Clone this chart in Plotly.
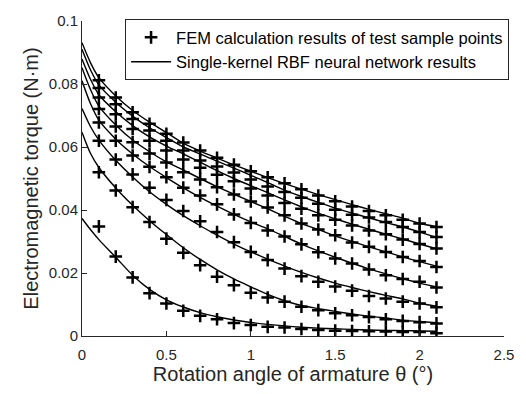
import plotly.graph_objects as go

# x positions of FEM sample points and of the RBF network curve
x_fem = [0.1, 0.2, 0.3, 0.4, 0.5, 0.6, 0.7, 0.8, 0.9, 1.0, 1.1,
         1.2, 1.3, 1.4, 1.5, 1.6, 1.7, 1.8, 1.9, 2.0, 2.1]
x_rbf = [0.0, 0.05, 0.1, 0.2, 0.3, 0.4, 0.5, 0.6, 0.7, 0.8, 0.9, 1.0, 1.1,
         1.2, 1.3, 1.4, 1.5, 1.6, 1.7, 1.8, 1.9, 2.0, 2.1]

# FEM calculation results (N·m), 8 curves from top to bottom
fem_c1 = [0.0812, 0.0757, 0.0710, 0.0674, 0.0642, 0.0614, 0.0589, 0.0566, 0.0544, 0.0523, 0.0504,
          0.0485, 0.0466, 0.0446, 0.0428, 0.0411, 0.0397, 0.0383, 0.0369, 0.0357, 0.0346]
fem_c2 = [0.0787, 0.0736, 0.0689, 0.0652, 0.0620, 0.0589, 0.0557, 0.0538, 0.0519, 0.0497, 0.0475,
          0.0457, 0.0439, 0.0420, 0.0401, 0.0385, 0.0376, 0.0362, 0.0346, 0.0330, 0.0314]
fem_c3 = [0.0757, 0.0704, 0.0657, 0.0620, 0.0589, 0.0560, 0.0534, 0.0512, 0.0491, 0.0468, 0.0446,
          0.0422, 0.0404, 0.0383, 0.0369, 0.0351, 0.0335, 0.0323, 0.0306, 0.0292, 0.0278]
fem_c4 = [0.0721, 0.0665, 0.0615, 0.0579, 0.0551, 0.0520, 0.0497, 0.0472, 0.0449, 0.0427, 0.0408,
          0.0383, 0.0357, 0.0338, 0.0320, 0.0297, 0.0283, 0.0267, 0.0251, 0.0238, 0.0219]
fem_c5 = [0.0678, 0.0620, 0.0573, 0.0537, 0.0504, 0.0471, 0.0446, 0.0418, 0.0386, 0.0359, 0.0335,
          0.0316, 0.0291, 0.0266, 0.0246, 0.0230, 0.0211, 0.0193, 0.0181, 0.0172, 0.0154]
fem_c6 = [0.0620, 0.0560, 0.0513, 0.0471, 0.0432, 0.0397, 0.0364, 0.0330, 0.0298, 0.0267, 0.0241,
          0.0214, 0.0190, 0.0172, 0.0157, 0.0144, 0.0127, 0.0119, 0.0109, 0.0103, 0.0091]
fem_c7 = [0.0520, 0.0462, 0.0409, 0.0362, 0.0309, 0.0264, 0.0225, 0.0188, 0.0161, 0.0137, 0.0122,
          0.0109, 0.0093, 0.0082, 0.0072, 0.0066, 0.0060, 0.0053, 0.0048, 0.0044, 0.0040]
fem_c8 = [0.0348, 0.0252, 0.0186, 0.0136, 0.0103, 0.0080, 0.0064, 0.0053, 0.0041, 0.0035, 0.0029,
          0.0027, 0.0022, 0.0019, 0.0017, 0.0016, 0.0015, 0.0014, 0.0013, 0.0013, 0.0009]

# Single-kernel RBF neural network results (N·m)
rbf_c1 = [0.0931, 0.0868, 0.0820, 0.0762, 0.0716, 0.0679, 0.0646, 0.0612, 0.0587, 0.0565, 0.0543, 0.0523,
          0.0503, 0.0484, 0.0466, 0.0449, 0.0433, 0.0417, 0.0402, 0.0388, 0.0374, 0.0358, 0.0347]
rbf_c2 = [0.0910, 0.0845, 0.0797, 0.0742, 0.0698, 0.0661, 0.0630, 0.0600, 0.0578, 0.0555, 0.0533, 0.0510,
          0.0487, 0.0463, 0.0443, 0.0424, 0.0406, 0.0390, 0.0375, 0.0360, 0.0346, 0.0330, 0.0313]
rbf_c3 = [0.0879, 0.0815, 0.0766, 0.0712, 0.0668, 0.0632, 0.0603, 0.0578, 0.0552, 0.0525, 0.0500, 0.0477,
          0.0455, 0.0432, 0.0410, 0.0390, 0.0372, 0.0355, 0.0339, 0.0323, 0.0308, 0.0292, 0.0277]
rbf_c4 = [0.0852, 0.0783, 0.0730, 0.0670, 0.0622, 0.0585, 0.0553, 0.0527, 0.0500, 0.0474, 0.0450, 0.0427,
          0.0404, 0.0380, 0.0357, 0.0338, 0.0318, 0.0300, 0.0283, 0.0267, 0.0251, 0.0236, 0.0222]
rbf_c5 = [0.0810, 0.0738, 0.0685, 0.0625, 0.0578, 0.0538, 0.0503, 0.0470, 0.0440, 0.0412, 0.0386, 0.0362,
          0.0340, 0.0316, 0.0292, 0.0270, 0.0250, 0.0231, 0.0213, 0.0197, 0.0182, 0.0168, 0.0156]
rbf_c6 = [0.0722, 0.0665, 0.0622, 0.0558, 0.0505, 0.0458, 0.0418, 0.0382, 0.0350, 0.0320, 0.0292, 0.0267,
          0.0244, 0.0222, 0.0202, 0.0184, 0.0168, 0.0154, 0.0141, 0.0129, 0.0118, 0.0104, 0.0095]
rbf_c7 = [0.0647, 0.0580, 0.0535, 0.0470, 0.0415, 0.0366, 0.0322, 0.0280, 0.0243, 0.0210, 0.0181, 0.0156,
          0.0132, 0.0112, 0.0097, 0.0087, 0.0078, 0.0070, 0.0063, 0.0057, 0.0050, 0.0046, 0.0042]
rbf_c8 = [0.0373, 0.0338, 0.0306, 0.0250, 0.0193, 0.0148, 0.0115, 0.0092, 0.0074, 0.0061, 0.0051, 0.0043,
          0.0037, 0.0032, 0.0028, 0.0025, 0.0023, 0.0021, 0.0019, 0.0018, 0.0017, 0.0016, 0.0015]

fem_series = [fem_c1, fem_c2, fem_c3, fem_c4, fem_c5, fem_c6, fem_c7, fem_c8]
rbf_series = [rbf_c1, rbf_c2, rbf_c3, rbf_c4, rbf_c5, rbf_c6, rbf_c7, rbf_c8]

legend_fem = "FEM calculation results of test sample points"
legend_rbf = "Single-kernel RBF neural network results"

fig = go.Figure()

for i, ys in enumerate(rbf_series):
    fig.add_trace(go.Scatter(
        x=x_rbf, y=ys, mode="lines",
        line=dict(color="black", width=1.4, shape="spline", smoothing=0.8),
        name=legend_rbf, showlegend=(i == 0), legendrank=2,
    ))

for i, ys in enumerate(fem_series):
    fig.add_trace(go.Scatter(
        x=x_fem, y=ys, mode="markers",
        marker=dict(symbol="cross-thin", size=9, color="black",
                    line=dict(color="black", width=2.5)),
        name=legend_fem, showlegend=(i == 0), legendrank=1,
    ))

font_family = "Liberation Sans, Arial, sans-serif"
axis_color = "#262626"

fig.update_layout(
    width=526, height=394,
    margin=dict(l=82, r=19, t=20, b=58),
    paper_bgcolor="white", plot_bgcolor="white",
    font=dict(family=font_family, size=15, color=axis_color),
    legend=dict(
        x=1.012, xanchor="right", y=1.006, yanchor="top",
        bgcolor="white", bordercolor="#262626", borderwidth=1,
        font=dict(size=16.5, color="black"),
        tracegroupgap=0, itemwidth=40,
    ),
    xaxis=dict(
        range=[0, 2.5], tickvals=[0, 0.5, 1, 1.5, 2, 2.5],
        ticktext=["0", "0.5", "1", "1.5", "2", "2.5"],
        ticks="inside", ticklen=5, tickwidth=1, tickcolor=axis_color,
        showline=True, linecolor=axis_color, linewidth=1, mirror=False,
        showgrid=False, zeroline=False,
        tickfont=dict(size=15), ticklabelstandoff=5,
        title=dict(text="Rotation angle of armature θ (°)", font=dict(size=20), standoff=4),
    ),
    yaxis=dict(
        range=[0, 0.1], tickvals=[0, 0.02, 0.04, 0.06, 0.08, 0.1],
        ticktext=["0", "0.02", "0.04", "0.06", "0.08", "0.1"],
        ticks="inside", ticklen=5, tickwidth=1, tickcolor=axis_color,
        showline=True, linecolor=axis_color, linewidth=1, mirror=False,
        showgrid=False, zeroline=False,
        tickfont=dict(size=15),
        title=dict(text="Electromagnetic torque (N·m)", font=dict(size=20), standoff=4),
    ),
)

fig.write_html("out.html")
